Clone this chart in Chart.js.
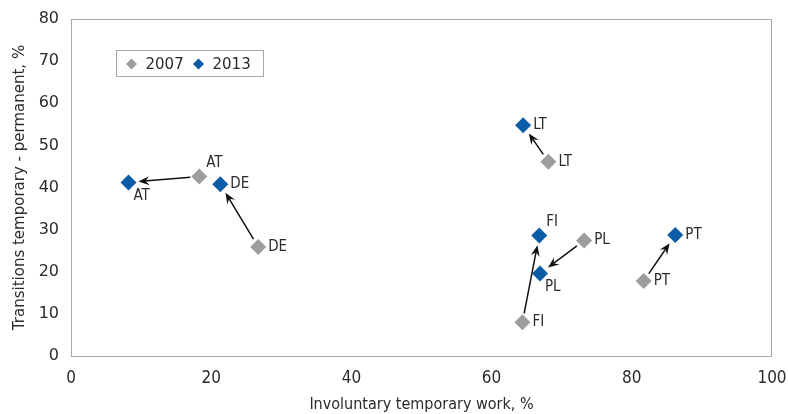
<!DOCTYPE html>
<html>
<head>
<meta charset="utf-8">
<script src="https://cdn.jsdelivr.net/npm/chart.js@4"></script>
<style>
  html, body { margin: 0; padding: 0; background: #fff; }
  #wrap { width: 788px; height: 414px; }
</style>
</head>
<body>
<div id="wrap"><canvas id="scatterChart" width="788" height="414"></canvas></div>
<script>
// data
const countries = ['AT', 'DE', 'LT', 'FI', 'PL', 'PT'];
const years = ['2007', '2013'];
const x2007 = [18.3, 26.7, 68.1, 64.4, 73.2, 81.7];
const y2007 = [42.6, 25.9, 46.1, 8.0, 27.4, 17.8];
const x2013 = [8.2, 21.3, 64.5, 66.8, 66.9, 86.2];
const y2013 = [41.2, 40.8, 54.8, 28.6, 19.6, 28.7];
const xTicks = [0, 20, 40, 60, 80, 100];
const yTicks = [0, 10, 20, 30, 40, 50, 60, 70, 80];

const grey = '#9d9d9d';
const blue = '#0b5ca6';
const textCol = '#2b2b2b';
const narrow = "'Liberation Sans Narrow', 'DejaVu Sans Condensed', 'Arial Narrow', sans-serif";
const wide = "'DejaVu Sans', Verdana, sans-serif";

// labels that do not sit to the right of their marker
const labelPos = { 'AT-2007': 'above', 'AT-2013': 'below', 'FI-2013': 'above', 'PL-2013': 'below' };

function toPoints(xs, ys) {
    return xs.map((x, i) => ({ x: x, y: ys[i] }));
}

// grey box round the plot area
const framePlugin = {
    id: 'frame',
    beforeDatasetsDraw(chart) {
        const a = chart.chartArea;
        const ctx = chart.ctx;
        ctx.save();
        ctx.strokeStyle = '#a8a8a8';
        ctx.lineWidth = 1;
        ctx.strokeRect(Math.round(a.left) + 0.5, Math.round(a.top) + 0.5,
            Math.round(a.right - a.left) - 1, Math.round(a.bottom - a.top));
        ctx.restore();
    }
};

// arrows from the 2007 marker to the 2013 marker
const arrowPlugin = {
    id: 'arrows',
    beforeDatasetsDraw(chart) {
        const from = chart.getDatasetMeta(0).data;
        const to = chart.getDatasetMeta(1).data;
        const ctx = chart.ctx;
        ctx.save();
        ctx.strokeStyle = '#111';
        ctx.fillStyle = '#111';
        ctx.lineWidth = 1.5;
        countries.forEach((c, i) => {
            const a = from[i], b = to[i];
            const dx = b.x - a.x, dy = b.y - a.y;
            const len = Math.sqrt(dx * dx + dy * dy);
            const ux = dx / len, uy = dy / len;
            const nx = -uy, ny = ux;
            const sx = a.x + ux * 9, sy = a.y + uy * 9;
            const tx = b.x - ux * 10, ty = b.y - uy * 10;
            ctx.beginPath();
            ctx.moveTo(sx, sy);
            ctx.lineTo(tx - ux * 6, ty - uy * 6);
            ctx.stroke();
            ctx.beginPath();
            ctx.moveTo(tx, ty);
            ctx.lineTo(tx - ux * 11 + nx * 4.5, ty - uy * 11 + ny * 4.5);
            ctx.lineTo(tx - ux * 7, ty - uy * 7);
            ctx.lineTo(tx - ux * 11 - nx * 4.5, ty - uy * 11 - ny * 4.5);
            ctx.closePath();
            ctx.fill();
        });
        ctx.restore();
    }
};

// country codes next to the markers
const labelPlugin = {
    id: 'pointLabels',
    afterDatasetsDraw(chart) {
        const ctx = chart.ctx;
        ctx.save();
        ctx.font = '15px ' + narrow;
        ctx.fillStyle = textCol;
        ctx.textAlign = 'left';
        ctx.textBaseline = 'middle';
        years.forEach((yr, d) => {
            chart.getDatasetMeta(d).data.forEach((pt, i) => {
                const pos = labelPos[countries[i] + '-' + yr] || 'right';
                let x = pt.x + 10, y = pt.y;
                if (pos === 'above') { x = pt.x + 7; y = pt.y - 13; }
                if (pos === 'below') { x = pt.x + 5; y = pt.y + 14; }
                ctx.fillText(countries[i], x, y);
            });
        });
        ctx.restore();
    }
};

// boxed legend inside the plot
const legendPlugin = {
    id: 'boxLegend',
    afterDraw(chart) {
        const a = chart.chartArea;
        const ctx = chart.ctx;
        const left = Math.round(a.left) + 45.5, top = Math.round(a.top) + 31.5;
        ctx.save();
        ctx.strokeStyle = '#a8a8a8';
        ctx.lineWidth = 1;
        ctx.fillStyle = '#fff';
        ctx.fillRect(left, top, 147, 26);
        ctx.strokeRect(left, top, 147, 26);
        ctx.font = '15px ' + wide;
        ctx.textBaseline = 'middle';
        let x = left + 15;
        chart.data.datasets.forEach(ds => {
            const cy = top + 13.5;
            ctx.fillStyle = ds.backgroundColor;
            ctx.beginPath();
            ctx.moveTo(x - 5.5, cy);
            ctx.lineTo(x, cy - 5.5);
            ctx.lineTo(x + 5.5, cy);
            ctx.lineTo(x, cy + 5.5);
            ctx.closePath();
            ctx.fill();
            ctx.fillStyle = textCol;
            ctx.fillText(ds.label, x + 14, cy + 1);
            x += 67;
        });
        ctx.restore();
    }
};

const ctx = document.getElementById('scatterChart').getContext('2d');
const scatterChart = new Chart(ctx, {
    type: 'scatter',
    data: {
        datasets: [
            {
                label: years[0],
                data: toPoints(x2007, y2007),
                backgroundColor: grey,
                borderWidth: 0,
                pointStyle: 'rectRot',
                pointRadius: 8,
                pointHoverRadius: 8
            },
            {
                label: years[1],
                data: toPoints(x2013, y2013),
                backgroundColor: blue,
                borderWidth: 0,
                pointStyle: 'rectRot',
                pointRadius: 8,
                pointHoverRadius: 8
            }
        ]
    },
    options: {
        responsive: false,
        animation: false,
        layout: { padding: { top: 19, right: 16, left: 0, bottom: 0 } },
        plugins: {
            legend: { display: false },
            tooltip: { enabled: false }
        },
        scales: {
            x: {
                type: 'linear',
                min: 0,
                max: 100,
                afterBuildTicks: scale => { scale.ticks = xTicks.map(v => ({ value: v })); },
                afterFit: scale => { scale.height = 58; },
                grid: { display: false, drawTicks: true, tickLength: 12, tickColor: 'rgba(0,0,0,0)' },
                border: { display: false },
                ticks: { color: textCol, font: { family: narrow, size: 17 }, padding: 0, maxRotation: 0 },
                title: {
                    display: true,
                    text: 'Involuntary temporary work, %',
                    color: textCol,
                    font: { family: narrow, size: 16 },
                    padding: { top: 0, bottom: 0 }
                }
            },
            y: {
                type: 'linear',
                min: 0,
                max: 80,
                afterBuildTicks: scale => { scale.ticks = yTicks.map(v => ({ value: v })); },
                afterFit: scale => { scale.width = 71; },
                grid: { display: false, drawTicks: true, tickLength: 12, tickColor: 'rgba(0,0,0,0)' },
                border: { display: false },
                ticks: { color: textCol, font: { family: wide, size: 16 }, padding: 0 },
                title: {
                    display: true,
                    text: 'Transitions temporary - permanent, %',
                    color: textCol,
                    font: { family: wide, size: 15 },
                    padding: { top: 11, bottom: 0 }
                }
            }
        }
    },
    plugins: [framePlugin, arrowPlugin, labelPlugin, legendPlugin]
});
</script>
</body>
</html>
